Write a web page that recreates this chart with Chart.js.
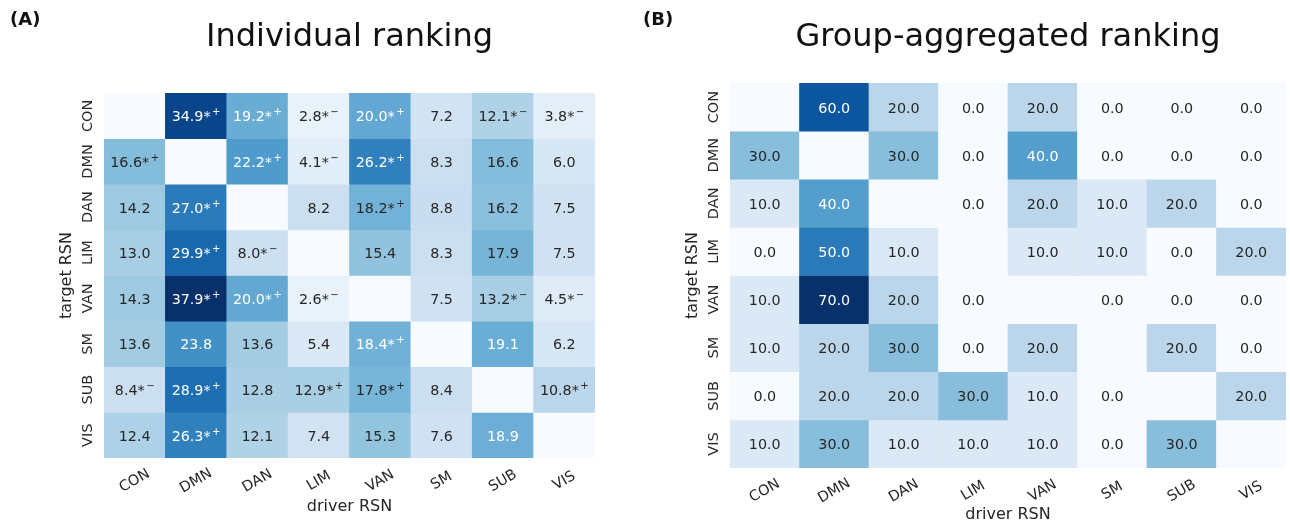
<!DOCTYPE html>
<html>
<head>
<meta charset="utf-8">
<script src="https://cdn.jsdelivr.net/npm/chart.js@4"></script>
<style>
  html, body { margin: 0; padding: 0; background: #fff; }
  #wrap { position: relative; width: 1290px; height: 525px; }
  canvas { position: absolute; top: 0; }
  #chartA { left: 0; }
  #chartB { left: 640px; }
</style>
</head>
<body>
<div id="wrap">
  <canvas id="chartA" width="640" height="525"></canvas>
  <canvas id="chartB" width="650" height="525"></canvas>
</div>
<script>
const drivers = ["CON", "DMN", "DAN", "LIM", "VAN", "SM", "SUB", "VIS"]
const targets = ["CON", "DMN", "DAN", "LIM", "VAN", "SM", "SUB", "VIS"]

// (A) individual ranking, rows = target, cols = driver, null on the diagonal
const individual = [
  [null, 34.9, 19.2, 2.8, 20.0, 7.2, 12.1, 3.8],
  [16.6, null, 22.2, 4.1, 26.2, 8.3, 16.6, 6.0],
  [14.2, 27.0, null, 8.2, 18.2, 8.8, 16.2, 7.5],
  [13.0, 29.9, 8.0, null, 15.4, 8.3, 17.9, 7.5],
  [14.3, 37.9, 20.0, 2.6, null, 7.5, 13.2, 4.5],
  [13.6, 23.8, 13.6, 5.4, 18.4, null, 19.1, 6.2],
  [8.4, 28.9, 12.8, 12.9, 17.8, 8.4, null, 10.8],
  [12.4, 26.3, 12.1, 7.4, 15.3, 7.6, 18.9, null]
]
// significance marks for (A): "+" above chance, "-" below chance
const individualSig = [
  ["", "+", "+", "-", "+", "", "-", "-"],
  ["+", "", "+", "-", "+", "", "", ""],
  ["", "+", "", "", "+", "", "", ""],
  ["", "+", "-", "", "", "", "", ""],
  ["", "+", "+", "-", "", "", "-", "-"],
  ["", "", "", "", "+", "", "", ""],
  ["-", "+", "", "+", "+", "", "", "+"],
  ["", "+", "", "", "", "", "", ""]
]

// (B) group-aggregated ranking
const group = [
  [null, 60, 20, 0, 20, 0, 0, 0],
  [30, null, 30, 0, 40, 0, 0, 0],
  [10, 40, null, 0, 20, 10, 20, 0],
  [0, 50, 10, null, 10, 10, 0, 20],
  [10, 70, 20, 0, null, 0, 0, 0],
  [10, 20, 30, 0, 20, null, 20, 0],
  [0, 20, 20, 30, 10, 0, null, 20],
  [10, 30, 10, 10, 10, 0, 30, null]
]

const FONT = '"DejaVu Sans", sans-serif'
const TEXT = "#262626"

// matplotlib "Blues"
const BLUES = [
  [247, 251, 255], [222, 235, 247], [198, 219, 239], [158, 202, 225], [107, 174, 214],
  [66, 146, 198], [33, 113, 181], [8, 81, 156], [8, 48, 107]
]

function blues(t) {
  t = Math.min(1, Math.max(0, t))
  const pos = t * (BLUES.length - 1)
  const i = Math.min(BLUES.length - 2, Math.floor(pos))
  const f = pos - i
  const c = BLUES[i].map((v, k) => Math.round(v + (BLUES[i + 1][k] - v) * f))
  return `rgb(${c[0]}, ${c[1]}, ${c[2]})`
}

function vmaxOf(values) {
  return Math.max(...values.flat().filter(v => v !== null))
}

function heatmapDatasets(values) {
  const vmax = vmaxOf(values)
  return targets.map((t, r) => ({
    label: t,
    data: drivers.map(() => [r, r + 1]),
    backgroundColor: values[r].map(v => blues((v ?? 0) / vmax)),
    borderWidth: 0,
    barPercentage: 1,
    categoryPercentage: 1,
    grouped: false
  }))
}

const cellText = {
  id: "cellText",
  afterDatasetsDraw(chart, args, opts) {
    const { ctx, scales: { x, y } } = chart
    const vmax = vmaxOf(opts.values)
    const main = `14.3px ${FONT}`
    const sup = `10px ${FONT}`
    ctx.save()
    ctx.textBaseline = "alphabetic"
    ctx.textAlign = "left"
    opts.values.forEach((row, r) => row.forEach((v, c) => {
      if (v === null) return
      const s = opts.sig ? opts.sig[r][c] : ""
      const label = v.toFixed(1) + (s ? "*" : "")
      const mark = s ? (s === "+" ? "+" : "\u2212") : ""
      ctx.font = main
      const w1 = ctx.measureText(label).width
      ctx.font = sup
      const w2 = mark ? ctx.measureText(mark).width + 1.5 : 0
      const cx = x.getPixelForValue(c)
      const cy = y.getPixelForValue(r + 0.5)
      const left = cx - (w1 + w2) / 2
      const base = cy + 5.5
      ctx.fillStyle = v / vmax > 0.483 ? "#ffffff" : TEXT
      ctx.font = main
      ctx.fillText(label, left, base)
      if (mark) {
        ctx.font = sup
        ctx.fillText(mark, left + w1 + 1.5, base - 6)
      }
    }))
    ctx.restore()
  }
}

const axisLabels = {
  id: "axisLabels",
  afterDraw(chart, args, opts) {
    const { ctx, chartArea, scales: { x, y } } = chart
    ctx.save()
    ctx.fillStyle = TEXT
    ctx.font = `14.5px ${FONT}`
    ctx.textAlign = "center"
    ctx.textBaseline = "middle"
    drivers.forEach((d, i) => {
      ctx.save()
      ctx.translate(x.getPixelForValue(i), chartArea.bottom + 23)
      ctx.rotate(-Math.PI / 6)
      ctx.fillText(d, 0, 0)
      ctx.restore()
    })
    targets.forEach((t, i) => {
      ctx.save()
      ctx.translate(chartArea.left - 16, y.getPixelForValue(i + 0.5))
      ctx.rotate(-Math.PI / 2)
      ctx.fillText(t, 0, 0)
      ctx.restore()
    })

    ctx.textBaseline = "alphabetic"
    ctx.fillStyle = "#111111"
    ctx.font = `32px ${FONT}`
    ctx.fillText(opts.title, (chartArea.left + chartArea.right) / 2, 46)

    ctx.textAlign = "left"
    ctx.font = `bold 18px ${FONT}`
    ctx.fillText(opts.letter, opts.letterX, 25)
    ctx.restore()
  }
}

function makeHeatmap(canvasId, values, sig, cfg) {
  return new Chart(document.getElementById(canvasId), {
    type: "bar",
    data: { labels: drivers, datasets: heatmapDatasets(values) },
    plugins: [cellText, axisLabels],
    options: {
      responsive: false,
      animation: false,
      layout: { padding: { top: cfg.top, right: cfg.right, bottom: 0, left: 0 } },
      plugins: {
        legend: { display: false },
        tooltip: { enabled: false },
        cellText: { values, sig },
        axisLabels: { title: cfg.title, letter: cfg.letter, letterX: cfg.letterX }
      },
      scales: {
        x: {
          type: "category",
          offset: true,
          grid: { display: false },
          border: { display: false },
          ticks: { display: false },
          title: {
            display: true, text: "driver RSN", color: TEXT,
            font: { size: 16, family: FONT },
            padding: { top: 0, bottom: cfg.xTitlePad }
          },
          afterFit(scale) { scale.height = cfg.xHeight }
        },
        y: {
          type: "linear",
          min: 0,
          max: 8,
          reverse: true,
          grid: { display: false },
          border: { display: false },
          ticks: { display: false },
          title: {
            display: true, text: "target RSN", color: TEXT,
            font: { size: 16, family: FONT },
            padding: { top: cfg.yTitlePad, bottom: 0 }
          },
          afterFit(scale) { scale.width = cfg.yWidth }
        }
      }
    }
  })
}

makeHeatmap("chartA", individual, individualSig, {
  title: "Individual ranking", letter: "(A)", letterX: 10,
  top: 93, right: 45, xHeight: 67, yWidth: 104, xTitlePad: 8.4, yTitlePad: 57
})

makeHeatmap("chartB", group, null, {
  title: "Group-aggregated ranking", letter: "(B)", letterX: 3,
  top: 83, right: 4, xHeight: 57, yWidth: 90, xTitlePad: 0.4, yTitlePad: 43
})
</script>
</body>
</html>
